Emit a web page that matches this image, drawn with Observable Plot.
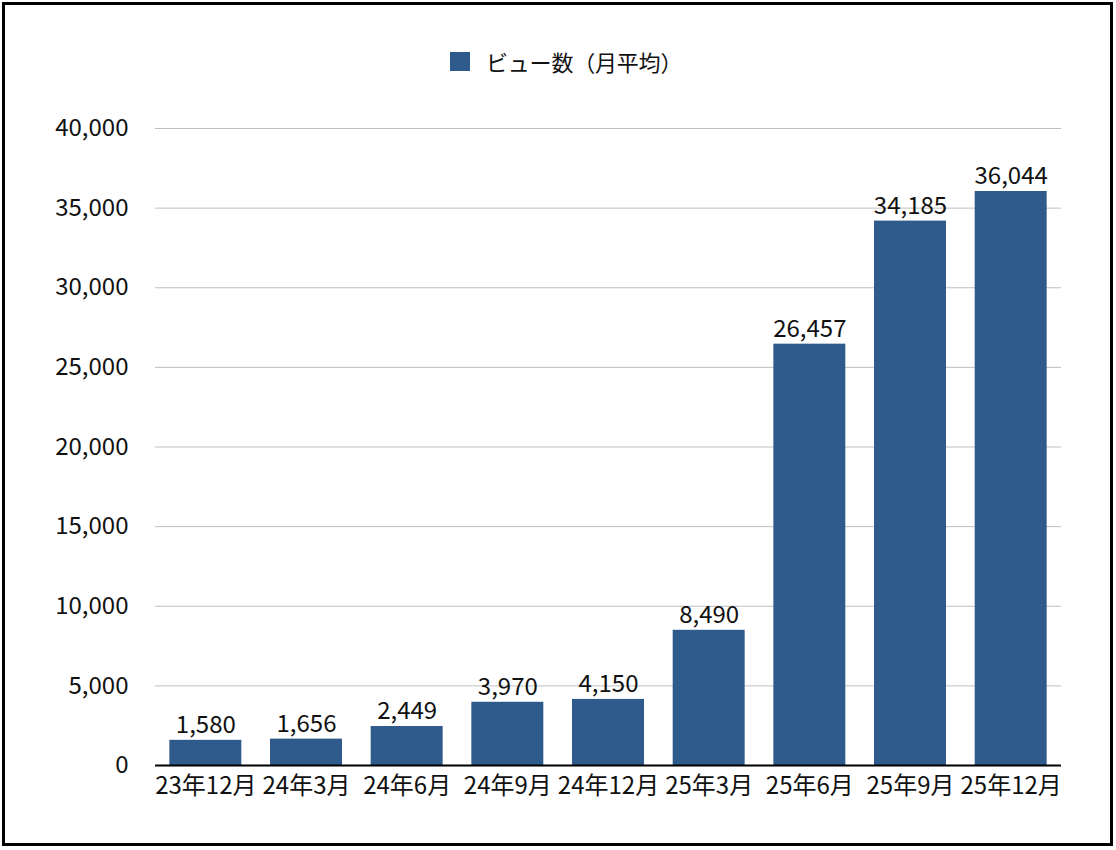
<!DOCTYPE html>
<html>
<head>
<meta charset="utf-8">
<script src="https://cdn.jsdelivr.net/npm/d3@7"></script>
<script src="https://cdn.jsdelivr.net/npm/@observablehq/plot@0.6"></script>
<style>
  html, body { margin: 0; padding: 0; background: #fff; }
  #wrap { position: relative; width: 1116px; height: 850px; overflow: hidden; font-family: "Noto Sans CJK JP", "Noto Sans", sans-serif; }
  #frame { position: absolute; left: 2px; top: 2px; width: 1111px; height: 844px; box-sizing: border-box; border: 3px solid #000; pointer-events: none; }
  #legend { height: 100px; position: relative; }
  #legend .sw { position: absolute; left: 450px; top: 52px; width: 20px; height: 19px; background: #2f5a8c; }
  #legend .lb { position: absolute; left: 486px; top: 45px; font-size: 22px; line-height: 32px; letter-spacing: -0.2px; color: #111; }
  #chart svg { display: block; }
</style>
</head>
<body>
<div id="wrap">
  <div id="legend"><div class="sw"></div><div class="lb">ビュー数（月平均）</div></div>
  <div id="chart"></div>
  <div id="frame"></div>
</div>
<script>
const categories = ["23年12月", "24年3月", "24年6月", "24年9月", "24年12月", "25年3月", "25年6月", "25年9月", "25年12月"];
const views = [1580, 1656, 2449, 3970, 4150, 8490, 26457, 34185, 36044];
const yTicks = [0, 5000, 10000, 15000, 20000, 25000, 30000, 35000, 40000];

const data = categories.map((c, i) => ({category: c, value: views[i]}));
const fmt = d3.format(",");

const chart = Plot.plot({
  width: 1116,
  height: 750,
  marginTop: 28,
  marginBottom: 85,
  marginLeft: 155,
  marginRight: 55,
  style: {fontFamily: '"Noto Sans CJK JP", "Noto Sans", sans-serif', fontSize: "24px", color: "#111", background: "transparent"},
  x: {domain: categories, paddingInner: 0.285, paddingOuter: 0.1425, round: false, label: null},
  y: {domain: [0, 40000], label: null},
  marks: [
    Plot.gridY(yTicks, {stroke: "#bfbfbf", strokeOpacity: 1, strokeWidth: 1}),
    Plot.barY(data, {x: "category", y: "value", fill: "#2f5a8c"}),
    Plot.ruleY([0], {stroke: "#000", strokeWidth: 2}),
    Plot.text(data, {x: "category", y: "value", text: d => fmt(d.value), dy: -7, lineAnchor: "bottom", fontSize: 24, fill: "#111"}),
    Plot.axisY(yTicks, {tickSize: 0, tickPadding: 27, tickFormat: fmt, fontSize: 24, label: null}),
    Plot.axisX({tickSize: 0, tickPadding: 11, fontSize: 24, label: null})
  ]
});
document.getElementById("chart").appendChild(chart);
</script>
</body>
</html>
